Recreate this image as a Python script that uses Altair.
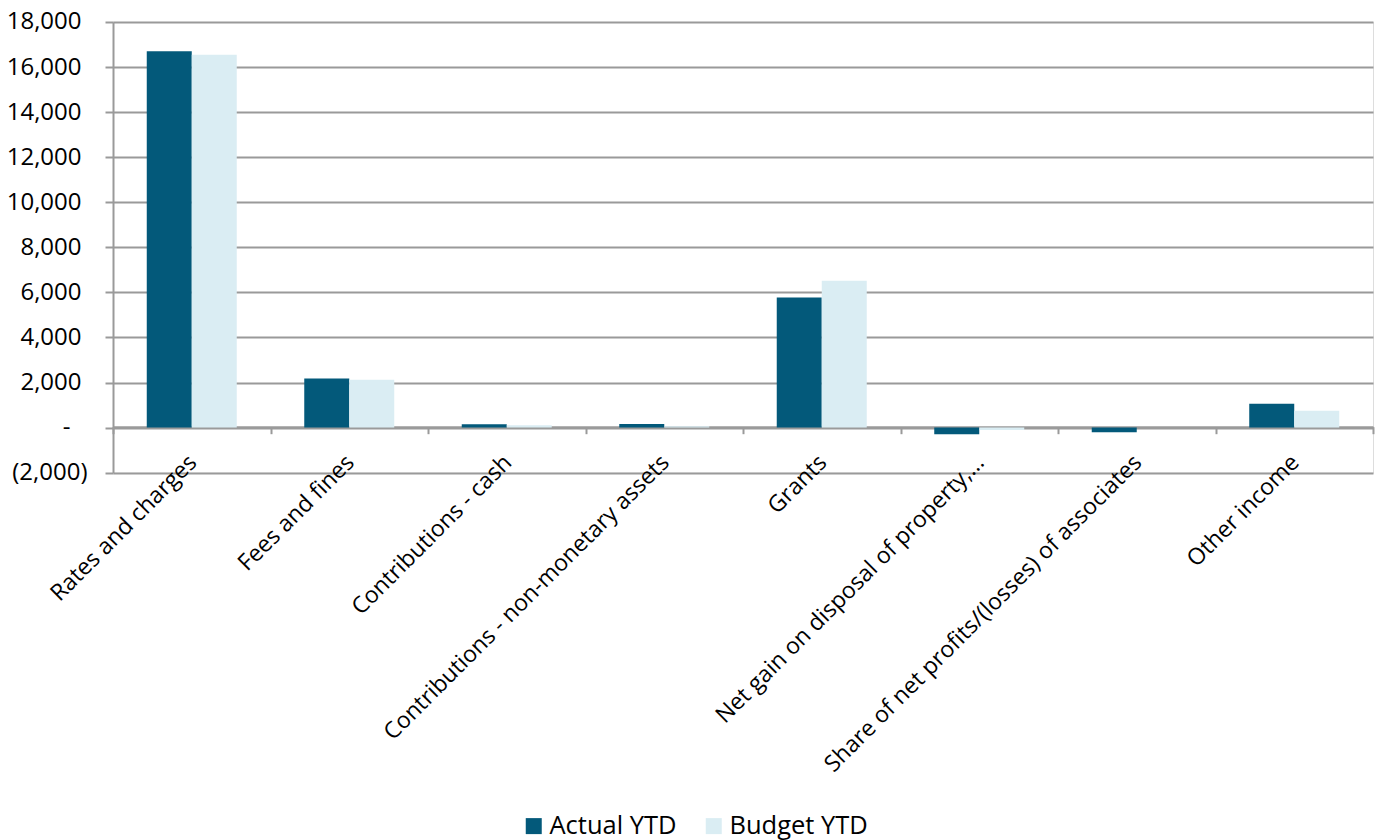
import altair as alt
import pandas as pd

categories = [
    "Rates and charges",
    "Fees and fines",
    "Contributions - cash",
    "Contributions - non-monetary assets",
    "Grants",
    "Net gain on disposal of property,\u2026",
    "Share of net profits/(losses) of associates",
    "Other income",
]
actual_ytd = [16700, 2180, 150, 165, 5770, -295, -210, 1060]
budget_ytd = [16550, 2120, 105, 60, 6520, -110, 0, 750]
series = ["Actual YTD", "Budget YTD"]
colors = ["#03597A", "#DAEDF3"]
y_ticks = [-2000, 0, 2000, 4000, 6000, 8000, 10000, 12000, 14000, 16000, 18000]

rows = []
for c, a, b in zip(categories, actual_ytd, budget_ytd):
    rows.append({"category": c, "series": series[0], "value": a})
    rows.append({"category": c, "series": series[1], "value": b})
df = pd.DataFrame(rows)

FONT = "Open Sans"
GRID = "#9A9A9A"

label_expr = (
    "datum.value == 0 ? '-' : "
    "(datum.value < 0 ? '(' + format(-datum.value, ',') + ')' : format(datum.value, ','))"
)

chart = (
    alt.Chart(df)
    .mark_bar()
    .encode(
        x=alt.X(
            "category:N",
            sort=categories,
            title=None,
            scale=alt.Scale(paddingInner=0, paddingOuter=0),
            axis=alt.Axis(
                labelAngle=-45,
                labelFont=FONT,
                labelFontSize=23,
                labelColor="#000000",
                labelLimit=1000,
                labelPadding=17,
                labelOffset=-7,
                tickBand="extent",
                tickSize=7,
                tickColor=GRID,
                tickWidth=2,
                domainColor=GRID,
                domainWidth=2,
                offset=-46,
                grid=False,
            ),
        ),
        xOffset=alt.XOffset(
            "series:N",
            sort=series,
            scale=alt.Scale(paddingInner=0, paddingOuter=0.75),
        ),
        y=alt.Y(
            "value:Q",
            title=None,
            scale=alt.Scale(domain=[-2000, 18000], nice=False, zero=False),
            axis=alt.Axis(
                values=y_ticks,
                labelExpr=label_expr,
                labelFont=FONT,
                labelFontSize=24,
                labelColor="#000000",
                labelPadding={
                    "condition": [
                        {"test": "datum.value == 0", "value": 35},
                        {"test": "datum.value < 0", "value": 18},
                    ],
                    "value": 24,
                },
                tickSize=8,
                tickColor=GRID,
                tickWidth=2,
                domainColor=GRID,
                domainWidth=2,
                gridColor=GRID,
                gridWidth=2,
                gridOpacity=1,
            ),
        ),
        color=alt.Color(
            "series:N",
            sort=series,
            scale=alt.Scale(domain=series, range=colors),
            legend=alt.Legend(
                title=None,
                orient="none",
                direction="horizontal",
                legendX=408,
                legendY=791,
                symbolType="square",
                symbolSize=256,
                symbolStrokeWidth=0,
                labelFont=FONT,
                labelFontSize=25.5,
                labelColor="#000000",
                columnPadding=24,
                labelOffset=3,
            ),
        ),
    )
    .properties(
        width=1260,
        height=450.7,
        autosize=alt.AutoSizeParams(type="none"),
        padding={"left": 113, "top": 22, "right": 10, "bottom": 367},
    )
    .configure_view(stroke=None)
    .configure(background="#FFFFFF")
)

chart.save("out.html", embed_options={"renderer": "svg", "actions": False})
